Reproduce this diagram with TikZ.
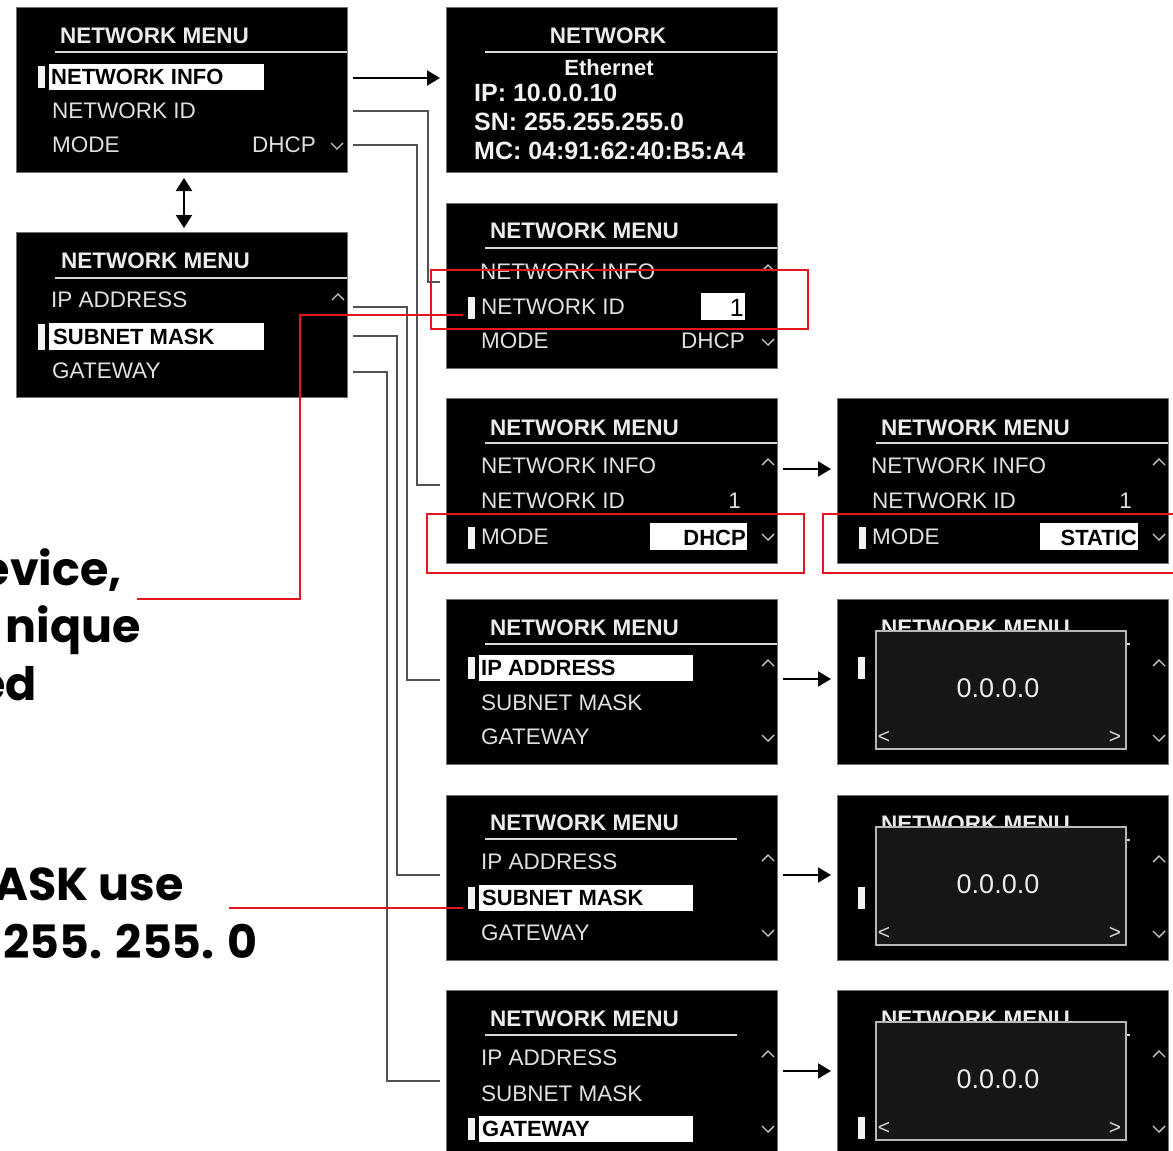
\documentclass[tikz,border=0pt]{standalone}
\usepackage{fontspec}
\setmainfont{Liberation Sans}
\newfontfamily\leftfont{Poppins}
\usetikzlibrary{arrows.meta}
\definecolor{rd}{RGB}{232,20,28}
\definecolor{popfill}{RGB}{22,22,22}
\tikzset{
 panel/.style={fill=black, draw=black!55, line width=0.8pt, inner sep=0, anchor=north west, minimum width=331pt, minimum height=165pt},
 ttl/.style={font=\bfseries\fontsize{22.5}{24}\selectfont, text=white!92!black, anchor=west, inner sep=0},
 rowt/.style={font=\fontsize{22.5}{24}\selectfont, text=white!88!black, anchor=west, inner sep=0},
 selt/.style={font=\bfseries\fontsize{22}{24}\selectfont, text=black, anchor=west, inner sep=0},
 infot/.style={font=\bfseries\fontsize{25}{27}\selectfont, text=white!95!black, anchor=west, inner sep=0},
 hlbox/.style={fill=white, draw=none, inner sep=0, anchor=north west, minimum height=26pt},
 curbar/.style={fill=white!95!black, draw=none, inner sep=0, anchor=north west, minimum width=6.5pt, minimum height=22pt},
 uline/.style={draw=white!85!black, line width=2.2pt},
 chev/.style={draw=white!78!black, line width=1.4pt},
 conn/.style={draw=black!68, line width=1.8pt},
 rline/.style={draw=rd, line width=1.3pt},
 rbox/.style={draw=rd, line width=2.4pt},
 arr/.style={draw=black, line width=2pt, -{Triangle[length=13pt,width=15pt]}},
 dblarr/.style={draw=black, line width=2pt, {Triangle[length=13pt,width=16pt]}-{Triangle[length=13pt,width=16pt]}},
 popup/.style={fill=popfill, draw=white!72!black, line width=1.6pt, inner sep=0, anchor=north west, minimum width=250pt, minimum height=118pt},
 popt/.style={font=\fontsize{27}{29}\selectfont, text=white!92!black, inner sep=0},
 brt/.style={font=\fontsize{21}{23}\selectfont, text=white!85!black, inner sep=0},
 bigt/.style={font=\leftfont\bfseries\fontsize{46}{50}\selectfont, text=black, anchor=base east, inner sep=0},
}
\newcommand{\chup}[2]{\draw[chev] (#1-6,#2+3) -- (#1,#2-3) -- (#1+6,#2+3);}
\newcommand{\chdn}[2]{\draw[chev] (#1-6,#2-3) -- (#1,#2+3) -- (#1+6,#2-3);}
\begin{document}
\begin{tikzpicture}[x=1pt,y=-1pt]
\clip (0,0) rectangle (1173,1151);
\fill[white] (0,0) rectangle (1173,1151);

% ---------- P1 ----------
\node[panel] (p1) at (16,7) {};
\node[ttl] (p1t) at (60,36) {NETWORK MENU};
\draw[uline] (55,52) -- (347,52);
\node[curbar] (p1c) at (38,66) {};
\node[hlbox, minimum width=215pt] (p1h) at (49,64) {};
\node[selt] (p1r1) at (51,77) {NETWORK INFO};
\node[rowt] (p1r2) at (52,111) {NETWORK ID};
\node[rowt] (p1r3) at (52,145) {MODE};
\node[rowt, anchor=east] (p1r3v) at (316,145) {DHCP};
\chdn{337}{146}

% ---------- P12 ----------
\node[panel] (p12) at (16,232) {};
\node[ttl] (p12t) at (61,261) {NETWORK MENU};
\draw[uline] (55,278) -- (347,278);
\node[rowt] (p12r1) at (51,300) {IP ADDRESS};
\chup{338}{297}
\node[curbar, minimum height=26pt] (p12c) at (38,324) {};
\node[hlbox, minimum width=215pt, minimum height=27pt] (p12h) at (49,323) {};
\node[selt] (p12r2) at (53,337) {SUBNET MASK};
\node[rowt] (p12r3) at (52,371) {GATEWAY};

% ---------- P2 ----------
\node[panel] (p2) at (446,7) {};
\node[ttl, anchor=center] (p2t) at (608,36) {NETWORK};
\draw[uline] (485,52) -- (777,52);
\node[infot, anchor=center, font=\bfseries\fontsize{22}{24}\selectfont] (p2e) at (609,68) {Ethernet};
\node[infot] (p2ip) at (474,93) {IP: 10.0.0.10};
\node[infot] (p2sn) at (474,122) {SN: 255.255.255.0};
\node[infot] (p2mc) at (474,151) {MC: 04:91:62:40:B5:A4};

% ---------- P3 ----------
\node[panel] (p3) at (446,203) {};
\node[ttl] (p3t) at (490,231) {NETWORK MENU};
\draw[uline] (485,248) -- (777,248);
\node[rowt] (p3r1) at (480,272) {NETWORK INFO};
\chup{768}{268}
\node[curbar] (p3c) at (468,297) {};
\node[rowt] (p3r2) at (481,307) {NETWORK ID};
\node[hlbox, minimum width=44pt, minimum height=27pt] (p3h) at (701,293) {};
\node[selt, anchor=east, font=\fontsize{25}{27}\selectfont] (p3v) at (744,308) {1};
\node[rowt] (p3r3) at (481,341) {MODE};
\node[rowt, anchor=east] (p3r3v) at (745,341) {DHCP};
\chdn{768}{342}
\draw[rbox] (431,270) rectangle (808,329);

% ---------- P4 ----------
\node[panel] (p4) at (446,398) {};
\node[ttl] (p4t) at (490,428) {NETWORK MENU};
\draw[uline] (485,443) -- (777,443);
\node[rowt] (p4r1) at (481,466) {NETWORK INFO};
\chup{768}{462}
\node[rowt] (p4r2) at (481,501) {NETWORK ID};
\node[rowt, anchor=east] (p4r2v) at (741,501) {1};
\node[curbar] (p4c) at (468,527) {};
\node[rowt] (p4r3) at (481,537) {MODE};
\node[hlbox, minimum width=97pt, minimum height=27pt] (p4h) at (650,523) {};
\node[selt, anchor=east] (p4v) at (746,538) {DHCP};
\chdn{768}{537}
\draw[rbox] (427,514) rectangle (804,573);

% ---------- P5 ----------
\node[panel] (p5) at (837,398) {};
\node[ttl] (p5t) at (881,428) {NETWORK MENU};
\draw[uline] (876,443) -- (1168,443);
\node[rowt] (p5r1) at (871,466) {NETWORK INFO};
\chup{1159}{462}
\node[rowt] (p5r2) at (872,501) {NETWORK ID};
\node[rowt, anchor=east] (p5r2v) at (1132,501) {1};
\node[curbar] (p5c) at (859,527) {};
\node[rowt] (p5r3) at (872,537) {MODE};
\node[hlbox, minimum width=98pt, minimum height=27pt] (p5h) at (1040,523) {};
\node[selt, anchor=east] (p5v) at (1137,538) {STATIC};
\chdn{1159}{537}
\draw[rbox] (823,514) rectangle (1190,573);

% ---------- P6 ----------
\node[panel] (p6) at (446,599) {};
\node[ttl] (p6t) at (490,628) {NETWORK MENU};
\draw[uline] (485,644) -- (777,644);
\node[curbar] (p6c) at (468,657) {};
\node[hlbox, minimum width=214pt] (p6h) at (479,655) {};
\node[selt] (p6r1) at (481,668) {IP ADDRESS};
\chup{768}{663}
\node[rowt] (p6r2) at (481,703) {SUBNET MASK};
\node[rowt] (p6r3) at (481,737) {GATEWAY};
\chdn{768}{738}

% ---------- P7 ----------
\node[panel] (p7) at (446,795) {};
\node[ttl] (p7t) at (490,823) {NETWORK MENU};
\draw[uline] (485,839) -- (737,839);
\node[rowt] (p7r1) at (481,862) {IP ADDRESS};
\chup{768}{858}
\node[curbar] (p7c) at (468,887) {};
\node[hlbox, minimum width=214pt] (p7h) at (479,885) {};
\node[selt] (p7r2) at (482,898) {SUBNET MASK};
\node[rowt] (p7r3) at (481,933) {GATEWAY};
\chdn{768}{933}

% ---------- P8 ----------
\node[panel] (p8) at (446,990) {};
\node[ttl] (p8t) at (490,1019) {NETWORK MENU};
\draw[uline] (485,1035) -- (737,1035);
\node[rowt] (p8r1) at (481,1058) {IP ADDRESS};
\chup{768}{1054}
\node[rowt] (p8r2) at (481,1094) {SUBNET MASK};
\node[curbar] (p8c) at (468,1118) {};
\node[hlbox, minimum width=214pt] (p8h) at (479,1116) {};
\node[selt] (p8r3) at (482,1129) {GATEWAY};
\chdn{768}{1129}

% ---------- P9 / P10 / P11 (popups) ----------
\node[panel] (p9) at (837,599) {};
\node[ttl] (p9t) at (881,628) {NETWORK MENU};
\draw[uline] (876,644) -- (1130,644);
\node[curbar] (p9c) at (858,657) {};
\chup{1159}{663}
\chdn{1159}{738}
\node[popup] (p9p) at (875,630) {};
\node[popt] (p9v) at (998,688) {0.0.0.0};
\node[brt] (p9l) at (884,737) {<};
\node[brt] (p9r) at (1115,737) {>};

\node[panel] (p10) at (837,795) {};
\node[ttl] (p10t) at (881,824) {NETWORK MENU};
\draw[uline] (876,840) -- (1130,840);
\node[curbar] (p10c) at (858,887) {};
\chup{1159}{859}
\chdn{1159}{934}
\node[popup] (p10p) at (875,826) {};
\node[popt] (p10v) at (998,884) {0.0.0.0};
\node[brt] (p10l) at (884,933) {<};
\node[brt] (p10r) at (1115,933) {>};

\node[panel] (p11) at (837,990) {};
\node[ttl] (p11t) at (881,1019) {NETWORK MENU};
\draw[uline] (876,1035) -- (1130,1035);
\node[curbar] (p11c) at (858,1117) {};
\chup{1159}{1054}
\chdn{1159}{1129}
\node[popup] (p11p) at (875,1021) {};
\node[popt] (p11v) at (998,1079) {0.0.0.0};
\node[brt] (p11l) at (884,1128) {<};
\node[brt] (p11r) at (1115,1128) {>};

% ---------- connector end points ----------
\coordinate (s1) at (353,78);   \coordinate (e1) at (440,78);
\coordinate (s2) at (353,111);  \coordinate (e2) at (440,282);
\coordinate (s3) at (353,145);  \coordinate (e3) at (440,485);
\coordinate (s4) at (353,307);  \coordinate (e4) at (440,680);
\coordinate (s5) at (353,336);  \coordinate (e5) at (440,875);
\coordinate (s6) at (353,372);  \coordinate (e6) at (440,1081);
\coordinate (d1) at (184,178);  \coordinate (d2) at (184,228);
\coordinate (m1) at (783,469);  \coordinate (n1) at (831,469);
\coordinate (m2) at (783,679);  \coordinate (n2) at (831,679);
\coordinate (m3) at (783,875);  \coordinate (n3) at (831,875);
\coordinate (m4) at (783,1071); \coordinate (n4) at (831,1071);

% gray connectors
\draw[conn] (s2) -- (428,111) |- (e2);
\draw[conn] (s3) -- (417,145) |- (e3);
\draw[conn] (s4) -- (407,307) |- (e4);
\draw[conn] (s5) -- (397,336) |- (e5);
\draw[conn] (s6) -- (387,372) |- (e6);

% arrows
\draw[arr] (s1) -- (e1);
\draw[dblarr] (d1) -- (d2);
\draw[arr] (m1) -- (n1);
\draw[arr] (m2) -- (n2);
\draw[arr] (m3) -- (n3);
\draw[arr] (m4) -- (n4);

% ---------- left text ----------
\node[bigt] (t1) at (122,585) {evice,};
\node[bigt] (t2) at (141,642) {nique};
\node[bigt] (t3) at (37,700) {ed};
\node[bigt] (t4) at (184,900) {ASK use};
\node[bigt] (t5) at (258,958) {255. 255. 0};

% red leader lines
\coordinate (q1) at (463,315);
\coordinate (q2) at (463,908);
\coordinate (r1) at (137,599);
\coordinate (r2) at (229,908);
\draw[rline] (q1) -- (300,315) |- (r1);
\draw[rline] (q2) -- (r2);
\end{tikzpicture}
\end{document}
